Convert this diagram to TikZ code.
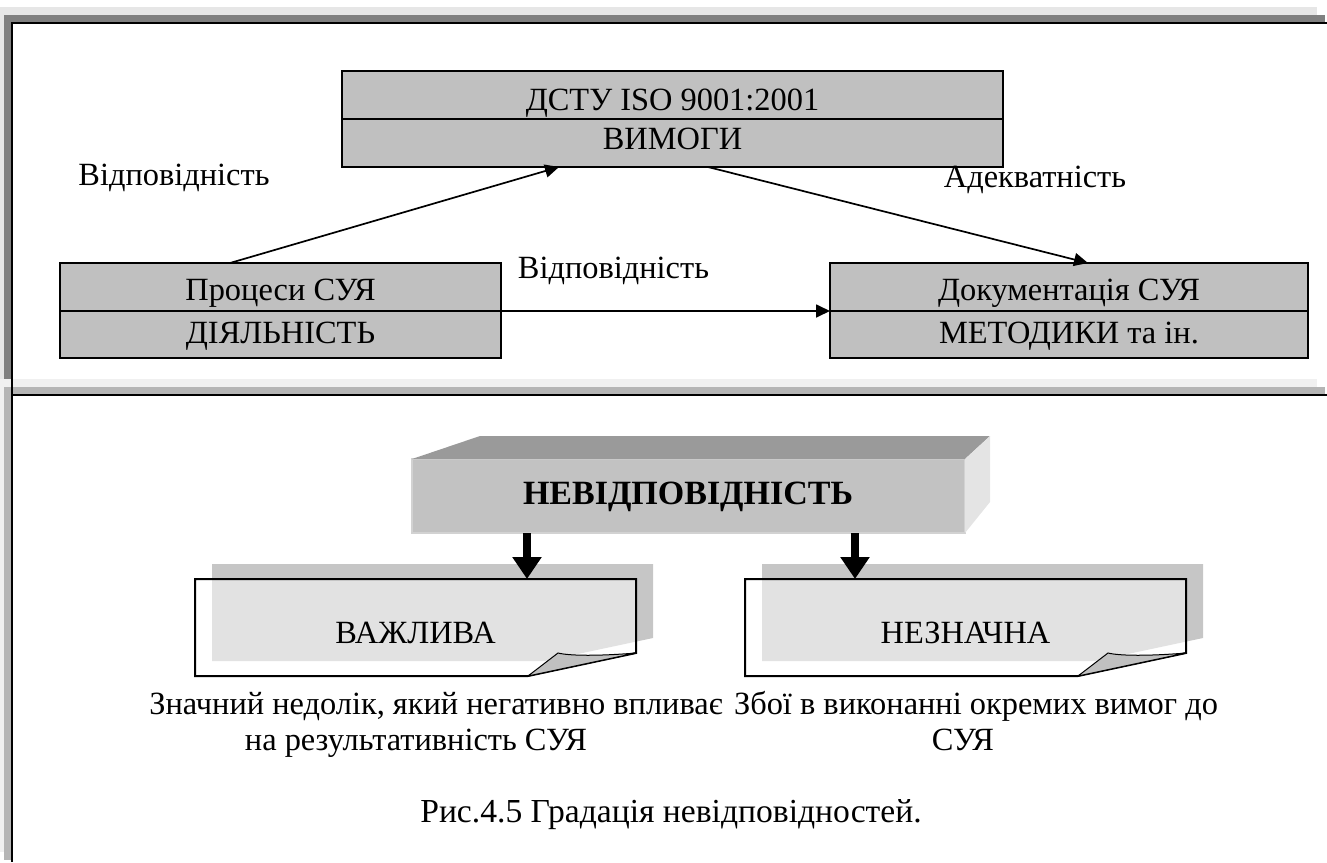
\documentclass[tikz,border=0pt]{standalone}
\usepackage{fontspec}
\setmainfont{Liberation Serif}
\usetikzlibrary{arrows.meta,calc}

\definecolor{boxgray}{HTML}{C0C0C0}
\definecolor{framedark}{HTML}{808080}
\definecolor{framelight}{HTML}{E6E6E6}
\definecolor{framepale}{HTML}{F0F0F0}
\definecolor{framemid}{HTML}{B5B5B5}
\definecolor{shadowgray}{HTML}{C6C6C6}
\definecolor{topface}{HTML}{9A9A9A}
\definecolor{sideface}{HTML}{E4E4E4}
\definecolor{frontface}{HTML}{C2C2C2}
\definecolor{frontedge}{HTML}{D2D2D2}

\tikzset{
  pics/notecard/.style={code={
    % offset shadow of the card
    \fill[shadowgray] (17,-15) -- (458,-15) -- (458,59) -- (350,82) -- (17,82) -- cycle;
    % translucent card with a cut corner
    \draw[line width=1pt, fill=white, fill opacity=0.5]
      (0,0) -- (441,0) -- (441,74) -- (333,97) -- (0,97) -- cycle;
    % curled-up corner
    \draw[line width=0.5pt, fill=boxgray]
      (441,74) .. controls (405,77) and (375,77) .. (363,74) -- (333,97) -- cycle;
  }}
}

\begin{document}
\begin{tikzpicture}[x=0.5pt,y=-0.5pt,
  every node/.style={font=\fontsize{16.2}{19}\selectfont, inner sep=0pt, outer sep=0pt},
  cell/.style={draw, line width=1pt, fill=boxgray, align=center},
  lbl/.style={anchor=base},
  arr/.style={line width=0.85pt, -{Triangle[length=7pt,width=6.5pt]}},
  bigarr/.style={line width=4pt, -{Triangle[length=11pt,width=14pt]}},
  card/.style={minimum width=220.5pt, minimum height=48.5pt, text height=32pt, text depth=16.5pt}
]
\useasboundingbox (0,0) rectangle (1327,862);

% ---------- upper frame ----------
\fill[framelight] (0,7) rectangle (1317,15);
\fill[framelight] (0,15) rectangle (4,379);
\fill[framedark] (4,15) rectangle (1325,22);
\fill[framedark] (4,22) rectangle (11,387);
\fill[black] (11,22) rectangle (1327,24);

% ---------- lower frame ----------
\fill[framepale] (0,379) rectangle (1317,387);
\fill[framepale] (0,387) rectangle (4,852);
\fill[framemid] (4,387) rectangle (1325,394);
\fill[framemid] (4,394) rectangle (11,860);
\fill[black] (11,394) rectangle (1327,396);
\fill[black] (11,22) rectangle (13,862);

% ---------- requirements / processes / documents ----------
\node[cell, minimum width=330.5pt, minimum height=24pt, text height=19.5pt, text depth=4.5pt]
  (req1) at (672.5,95) {ДСТУ ISO 9001:2001};
\node[cell, minimum width=330.5pt, minimum height=24pt, text height=15pt, text depth=9pt]
  (req2) at (672.5,143) {ВИМОГИ};

\node[cell, minimum width=220.5pt, minimum height=24pt, text height=18.5pt, text depth=5.5pt]
  (proc1) at (280.5,287) {Процеси СУЯ};
\node[cell, minimum width=220.5pt, minimum height=23.5pt, text height=16pt, text depth=7.5pt]
  (proc2) at (280.5,334.5) {ДІЯЛЬНІСТЬ};

\node[cell, minimum width=239pt, minimum height=24pt, text height=18.5pt, text depth=5.5pt]
  (doc1) at (1069,287) {Документація СУЯ};
\node[cell, minimum width=239pt, minimum height=23.5pt, text height=16pt, text depth=7.5pt]
  (doc2) at (1069,334.5) {МЕТОДИКИ та ін.};

\draw[arr] ($(proc1.north west)+(170,0)$) -- ($(req2.south west)+(217,0)$);
\draw[arr] ($(req2.south west)+(366,0)$) -- ($(doc1.north west)+(258,0)$);
\draw[arr] (proc2.north east) -- (doc2.north west);

\node[lbl] (fitL) at (174,185) {Відповідність};
\node[lbl] (adeq) at (1035,187) {Адекватність};
\node[lbl] (fitM) at (613.5,278) {Відповідність};

% ---------- nonconformity block ----------
\node[fill=frontface, draw=frontedge, line width=0.6pt, minimum width=276.5pt, minimum height=37pt]
  (nev) at (688.5,496) {};
\fill[topface] (nev.north west) -- ($(nev.north west)+(68,-23)$)
  -- ($(nev.north east)+(25,-23)$) -- (nev.north east) -- cycle;
\fill[sideface] (nev.north east) -- ($(nev.north east)+(25,-23)$)
  -- ($(nev.south east)+(25,-31)$) -- (nev.south east) -- cycle;
\node[lbl, font=\fontsize{17}{20}\selectfont\bfseries] (nevtxt) at (688,504) {НЕВІДПОВІДНІСТЬ};

% ---------- the two grades ----------
\pic at (195,579) {notecard};
\pic at (745,579) {notecard};
\node[card] (imp) at (415.5,627.5) {ВАЖЛИВА};
\node[card] (insig) at (965.5,627.5) {НЕЗНАЧНА};

\coordinate (ax1) at (527,0);
\coordinate (ax2) at (855,0);
\draw[bigarr] (nev.south -| ax1) -- (imp.north -| ax1);
\draw[bigarr] (nev.south -| ax2) -- (insig.north -| ax2);

\node[lbl] (impd1) at (436,714) {Значний недолік, який негативно впливає};
\node[lbl] (impd2) at (416,750) {на результативність СУЯ};
\node[lbl] (insd1) at (976,714) {Збої в виконанні окремих вимог до};
\node[lbl] (insd2) at (963,750) {СУЯ};

\node[lbl, font=\fontsize{16.8}{20}\selectfont] (caption) at (671,822) {Рис.4.5 Градація невідповідностей.};
\end{tikzpicture}
\end{document}
